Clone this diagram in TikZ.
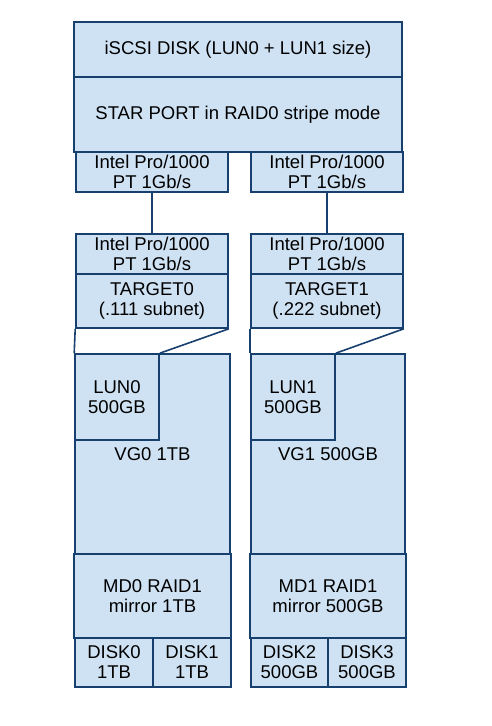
\documentclass[tikz,border=0pt]{standalone}
\usepackage{fontspec}
\setmainfont{Liberation Sans}
\definecolor{boxfill}{RGB}{207,226,243}
\definecolor{boxline}{RGB}{24,64,110}
\begin{document}
\begin{tikzpicture}[x=1pt,y=-1pt,
  box/.style={draw=boxline,fill=boxfill,line width=1.6pt,rectangle,inner sep=0pt,
    align=center,font=\fontsize{18.5}{20}\selectfont},
  link/.style={draw=boxline,line width=1.6pt}]
\useasboundingbox[fill=white] (0,0) rectangle (491,726);
% top
\node[box,minimum width=328,minimum height=55] (iscsi) at (238,49.5) {iSCSI DISK (LUN0 + LUN1 size)};
\node[box,minimum width=328,minimum height=75] (star) at (238,114.5) {STAR PORT in RAID0 stripe mode};
\node[box,minimum width=152,minimum height=40] (nicA) at (152,172) {Intel Pro/1000\\PT 1Gb/s};
\node[box,minimum width=152,minimum height=40] (nicB) at (327,172) {Intel Pro/1000\\PT 1Gb/s};
% targets
\node[box,minimum width=152,minimum height=40] (nicC) at (152,254) {Intel Pro/1000\\PT 1Gb/s};
\node[box,minimum width=152,minimum height=40] (nicD) at (327,254) {Intel Pro/1000\\PT 1Gb/s};
\node[box,minimum width=152,minimum height=54] (tgt0) at (152,301) {TARGET0\\(.111 subnet)};
\node[box,minimum width=152,minimum height=54] (tgt1) at (327,301) {TARGET1\\(.222 subnet)};
% volume groups
\node[box,minimum width=155,minimum height=200] (vg0) at (152.5,454) {VG0 1TB};
\node[box,minimum width=154,minimum height=200] (vg1) at (328,454) {VG1 500GB};
\node[box,minimum width=84,minimum height=86] (lun0) at (117,397) {LUN0\\500GB};
\node[box,minimum width=84,minimum height=86] (lun1) at (293,397) {LUN1\\500GB};
% raid
\node[box,minimum width=157,minimum height=84] (md0) at (152.5,596) {MD0 RAID1\\mirror 1TB};
\node[box,minimum width=156,minimum height=84] (md1) at (328,596) {MD1 RAID1\\mirror 500GB};
\node[box,minimum width=78,minimum height=49] (disk0) at (114,662.5) {DISK0\\1TB};
\node[box,minimum width=78,minimum height=49] (disk1) at (192,662.5) {DISK1\\1TB};
\node[box,minimum width=77,minimum height=49] (disk2) at (289.5,662.5) {DISK2\\500GB};
\node[box,minimum width=78,minimum height=49] (disk3) at (367,662.5) {DISK3\\500GB};
% connectors
\draw[link] (nicA.south) -- (nicC.north);
\draw[link] (nicB.south) -- (nicD.north);
\draw[link] (tgt0.south west) -- (lun0.north west);
\draw[link] (tgt0.south east) -- (lun0.north east);
\draw[link] (tgt1.south west) -- (lun1.north west);
\draw[link] (tgt1.south east) -- (lun1.north east);
\end{tikzpicture}
\end{document}
